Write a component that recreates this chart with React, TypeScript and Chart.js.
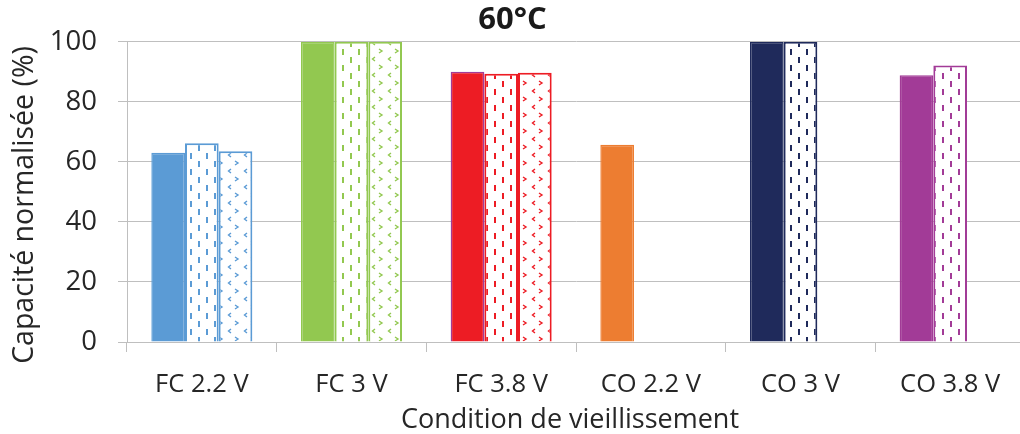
import React, { useEffect, useRef } from "react";
import { Chart, registerables } from "chart.js";

Chart.register(...registerables);

const categories = ["FC 2.2 V", "FC 3 V", "FC 3.8 V", "CO 2.2 V", "CO 3 V", "CO 3.8 V"];
const seriesSolid: (number | null)[] = [63.0, 100, 90.0, 65.7, 100, 88.8];
const seriesDashed: (number | null)[] = [66.2, 100, 89.3, null, 100, 92.1];
const seriesDotted: (number | null)[] = [63.5, 100, 89.7, null, null, null];
const colors = ["#5b9bd5", "#92c850", "#ed1c24", "#ed7d31", "#1f2a5b", "#a23b97"];
const solidBorders = ["#5b9bd5", "#92c850", "#a23b97", "#ed7d31", "#1f2a5b", "#a23b97"];
const yTicks = [0, 20, 40, 60, 80, 100];
const titleText = "60°C";
const yTitle = "Capacité normalisée (%)";
const xTitle = "Condition de vieillissement";

const FONT = "'Open Sans', 'Noto Sans', sans-serif";
const TEXT = "#262626";
const GRID = "#bfbfbf";

function dashPattern(color: string): CanvasPattern | string {
  const c = document.createElement("canvas");
  c.width = 16;
  c.height = 16;
  const g = c.getContext("2d");
  if (!g) return color;
  g.fillStyle = "#ffffff";
  g.fillRect(0, 0, 16, 16);
  g.fillStyle = color;
  g.fillRect(6, 1, 2, 6);
  g.fillRect(14, 9, 2, 6);
  return g.createPattern(c, "repeat") || color;
}

function confettiPattern(color: string): CanvasPattern | string {
  const c = document.createElement("canvas");
  c.width = 16;
  c.height = 16;
  const g = c.getContext("2d");
  if (!g) return color;
  g.fillStyle = "#ffffff";
  g.fillRect(0, 0, 16, 16);
  g.strokeStyle = color;
  g.lineWidth = 1.4;
  g.beginPath();
  g.moveTo(11, 1);
  g.lineTo(14, 3);
  g.lineTo(11, 5);
  g.stroke();
  g.beginPath();
  g.moveTo(7, 9);
  g.lineTo(4.5, 11);
  g.lineTo(7, 13);
  g.stroke();
  return g.createPattern(c, "repeat") || color;
}

const axisTitlesPlugin = {
  id: "axisTitles",
  afterDraw(chart: any) {
    const ctx: CanvasRenderingContext2D = chart.ctx;
    ctx.save();
    ctx.fillStyle = TEXT;
    ctx.textAlign = "center";
    ctx.textBaseline = "alphabetic";
    ctx.font = `28.5px ${FONT}`;
    ctx.translate(33, 205);
    ctx.rotate(-Math.PI / 2);
    ctx.fillText(yTitle, 0, 0);
    ctx.restore();
    ctx.save();
    ctx.fillStyle = TEXT;
    ctx.textAlign = "center";
    ctx.textBaseline = "alphabetic";
    ctx.font = `27px ${FONT}`;
    ctx.fillText(xTitle, 570, 428);
    ctx.restore();
  },
};

export default function App() {
  const ref = useRef<HTMLCanvasElement | null>(null);

  useEffect(() => {
    if (!ref.current) return;
    const chart = new Chart(ref.current, {
      type: "bar",
      data: {
        labels: categories,
        datasets: [
          {
            label: "solid",
            data: seriesSolid,
            backgroundColor: colors,
            borderColor: solidBorders,
            borderWidth: 1.5,
            borderSkipped: "bottom",
          },
          {
            label: "dashed",
            data: seriesDashed,
            backgroundColor: colors.map(dashPattern),
            borderColor: colors,
            borderWidth: 2,
            borderSkipped: "bottom",
          },
          {
            label: "dotted",
            data: seriesDotted,
            backgroundColor: colors.map(confettiPattern),
            borderColor: colors,
            borderWidth: 2,
            borderSkipped: "bottom",
          },
        ],
      },
      options: {
        animation: false,
        responsive: false,
        devicePixelRatio: 1,
        layout: { padding: { left: 0, right: 5, top: 0, bottom: 0 } },
        datasets: {
          bar: { barPercentage: 1, categoryPercentage: 0.675 },
        },
        plugins: {
          legend: { display: false },
          tooltip: { enabled: false },
          title: {
            display: true,
            text: titleText,
            color: "#1a1a1a",
            font: { family: FONT, size: 31, weight: "bold" },
            padding: { top: 2, bottom: 2.5 },
          },
        },
        scales: {
          x: {
            grid: { drawOnChartArea: false, drawTicks: true, tickLength: 10, color: GRID, offset: true },
            border: { color: GRID },
            ticks: { color: TEXT, font: { family: FONT, size: 25.5 }, padding: 17, maxRotation: 0 },
            afterFit: (s: any) => {
              s.height = 92;
            },
          },
          y: {
            min: 0,
            max: 100,
            afterBuildTicks: (s: any) => {
              s.ticks = yTicks.map((v) => ({ value: v }));
            },
            grid: { color: GRID, tickLength: 9 },
            border: { color: GRID },
            ticks: { color: TEXT, font: { family: FONT, size: 27.5 }, padding: 21 },
            afterFit: (s: any) => {
              s.width = 127;
            },
          },
        },
      },
      plugins: [axisTitlesPlugin],
    });
    return () => chart.destroy();
  }, []);

  return (
    <div
      style={{
        position: "fixed",
        left: 0,
        top: 0,
        width: 1020,
        height: 434,
        overflow: "hidden",
        background: "#ffffff",
      }}
    >
      <canvas ref={ref} width={1030} height={434} style={{ display: "block" }} />
    </div>
  );
}
